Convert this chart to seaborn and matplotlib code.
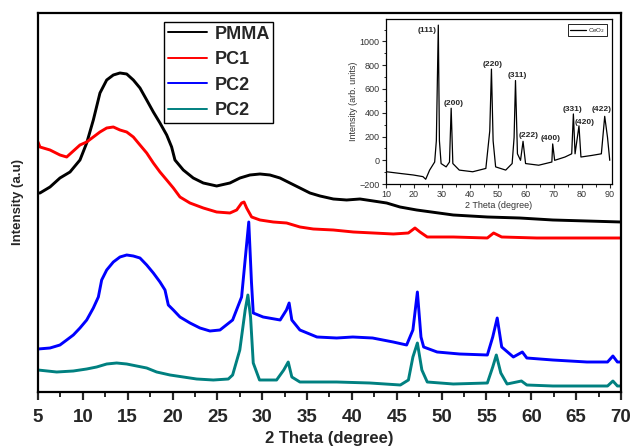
import numpy as np
import pandas as pd
import matplotlib
matplotlib.use("Agg")
import matplotlib.pyplot as plt
import seaborn as sns
from matplotlib.ticker import MultipleLocator

# ── data (intensity in arbitrary units) ─────────────────────────────────────
pmma_theta = [5.0, 5.22, 6.34, 7.45, 8.57, 9.68, 10.43, 11.17, 11.91, 12.66, 13.40, 14.14,
              14.89, 15.63, 16.37, 17.12, 17.86, 18.60, 19.35, 19.90, 20.27, 21.20, 22.31,
              23.43, 24.92, 26.40, 27.52, 28.63, 29.75, 30.86, 31.98, 33.09, 34.21, 35.32,
              36.44, 37.93, 39.41, 40.90, 42.39, 43.87, 45.36, 47.22, 51.3, 55.1, 58.7,
              62.4, 66.2, 70.0]
pmma_int = [199, 199, 205, 214, 220, 232, 249, 272, 299, 312, 317, 319,
            318, 312, 304, 292, 280, 269, 257, 245, 232, 222, 214,
            209, 206, 209, 214, 217, 218, 217, 214, 209, 204, 199,
            196, 193, 192, 193, 191, 189, 185, 182, 177, 175, 174,
            172, 171, 170]

pc1_theta = [5.0, 5.22, 6.34, 7.45, 8.20, 8.94, 9.68, 10.43, 11.17, 11.91, 12.66, 13.40,
             14.14, 14.89, 15.63, 16.37, 17.12, 17.86, 18.60, 19.35, 20.09, 20.83, 21.94,
             23.43, 24.92, 26.40, 27.15, 27.71, 27.97, 28.26, 28.82, 29.75, 31.23, 32.72,
             34.21, 35.69, 37.93, 40.16, 42.39, 44.62, 46.29, 47.03, 47.59, 48.4, 51.3,
             55.1, 55.8, 56.7, 60.6, 64.3, 70.0]
pc1_int = [250, 245, 242, 237, 235, 241, 247, 250, 255, 260, 264, 265,
           262, 260, 255, 247, 239, 229, 220, 212, 204, 195, 189,
           184, 180, 179, 182, 189, 190, 184, 175, 172, 170, 169,
           165, 163, 162, 160, 159, 158, 159, 164, 160, 155, 155,
           154, 159, 155, 154, 154, 154]

pc2_theta = [5.0, 6.34, 7.45, 8.20, 8.94, 9.68, 10.43, 11.17, 11.73, 12.10, 12.66, 13.40,
             14.14, 14.89, 15.63, 16.37, 17.12, 17.86, 18.60, 19.16, 19.53, 20.09, 20.83,
             21.95, 23.06, 24.17, 25.29, 26.7, 27.7, 28.2, 28.5, 28.8, 29.0, 30.1, 32.0,
             32.7, 33.0, 33.3, 34.2, 36.1, 38.3, 40.1, 42.3, 44.6, 46.1, 46.8, 47.3,
             47.7, 48.0, 49.5, 52.0, 55.1, 55.7, 56.2, 56.7, 58.0, 59.0, 59.5, 62.4,
             66.2, 68.5, 69.1, 69.6, 70.0]
pc2_int = [43, 44, 47, 52, 57, 64, 72, 84, 95, 112, 122, 130,
           135, 137, 136, 134, 127, 119, 110, 102, 87, 82, 75,
           69, 64, 61, 62, 72, 95, 142, 170, 110, 79, 75, 72,
           82, 89, 72, 62, 55, 54, 55, 54, 50, 47, 62, 100,
           55, 45, 40, 38, 37, 55, 74, 45, 35, 40, 34, 32,
           30, 30, 36, 30, 30]

pc2b_theta = [5.0, 7.08, 8.94, 10.43, 11.54, 12.66, 13.77, 14.89, 16.0, 17.12, 18.23,
              19.72, 21.2, 22.69, 24.55, 26.22, 26.7, 27.5, 28.1, 28.4, 28.7, 29.0, 29.7,
              31.6, 32.4, 32.9, 33.3, 34.2, 38.3, 42.0, 45.4, 46.3, 46.8, 47.3, 47.8,
              48.4, 51.3, 55.1, 55.7, 56.1, 56.6, 57.3, 58.9, 59.5, 62.4, 66.2, 68.5,
              69.1, 69.6, 70.0]
pc2b_int = [22, 20, 21, 23, 25, 28, 29, 28, 26, 24, 20,
            17, 15, 13, 12, 13, 17, 42, 82, 97, 75, 29, 12,
            12, 22, 30, 15, 10, 10, 9, 7, 12, 35, 49, 22,
            10, 8, 9, 25, 37, 19, 8, 11, 7, 6, 6, 6,
            11, 6, 6]

ceo2_theta = [10.2, 15.0, 19.7, 23.2, 24.2, 25.6, 27.4, 28.0, 28.7, 29.1, 29.7, 31.5,
              32.7, 33.3, 33.9, 36.2, 41.0, 45.7, 47.1, 47.7, 48.3, 49.2, 52.8, 55.1,
              55.8, 56.3, 57.0, 58.1, 59.0, 59.9, 64.6, 69.3, 69.6, 70.3, 74.0, 76.4,
              77.0, 77.6, 79.0, 79.7, 83.5, 87.0, 88.2, 89.2, 90.0]
ceo2_int = [-96, -110, -123, -137, -159, -82, -14, 164, 1137, 164, -27, -55,
            -14, 438, -27, -82, -96, -68, 247, 767, 164, -55, -82, -27,
            192, 671, 55, 0, 160, -27, -41, -14, 138, 0, 28, 55,
            390, 55, 290, 28, 41, 55, 370, 193, 0]

hkl_labels = ["(111)", "(200)", "(220)", "(311)", "(222)", "(400)", "(331)", "(420)", "(422)"]
hkl_theta = [24.7, 34.1, 48.3, 57.1, 61.0, 69.0, 76.6, 81.1, 87.0]
hkl_int = [1090, 474, 808, 717, 212, 185, 428, 317, 428]

series = [
    ("PMMA", pmma_theta, pmma_int, "black"),
    ("PC1", pc1_theta, pc1_int, "#ff0000"),
    ("PC2", pc2_theta, pc2_int, "#0000ff"),
    ("PC2", pc2b_theta, pc2b_int, "#008080"),
]

sns.set_style("ticks")
plt.rcParams["font.family"] = ["Liberation Sans", "DejaVu Sans"]

fig = plt.figure(figsize=(6.3, 4.48), dpi=100)
ax = fig.add_axes([0.0603, 0.125, 0.9254, 0.846])

for name, xs, ys, col in series:
    df = pd.DataFrame({"theta": xs, "intensity": ys})
    sns.lineplot(data=df, x="theta", y="intensity", ax=ax, color=col, lw=2.1,
                 label=name, estimator=None, sort=False)

ax.set_xlim(5, 70)
ax.set_ylim(0, 379)
ax.set_yticks([])
ax.xaxis.set_major_locator(MultipleLocator(5))
ax.xaxis.set_minor_locator(MultipleLocator(2.5))
ax.tick_params(axis="x", which="major", direction="out", length=6, width=1.6,
               labelsize=13.5, pad=6)
ax.tick_params(axis="x", which="minor", direction="out", length=3.5, width=1.4)
for lab in ax.get_xticklabels():
    lab.set_fontweight("bold")
for sp in ax.spines.values():
    sp.set_visible(True)
    sp.set_linewidth(1.6)
    sp.set_color("black")
ax.set_xlabel("2 Theta (degree)", fontsize=12, fontweight="bold", labelpad=4)
ax.set_ylabel("Intensity (a.u)", fontsize=9.5, fontweight="bold", labelpad=10)

leg = ax.legend(loc="upper left", bbox_to_anchor=(0.216, 0.976), borderaxespad=0,
                handlelength=2.2, handletextpad=0.4, labelspacing=0.47,
                borderpad=0.2, fancybox=False, framealpha=1, edgecolor="black",
                prop={"weight": "bold", "size": 13})
leg.get_frame().set_linewidth(1.0)
for h in leg.get_lines():
    h.set_linewidth(1.4)

# ── inset: CeO2 pattern ──────────────────────────────────────────────────────
ins = fig.add_axes([0.6127, 0.589, 0.3587, 0.369])
ins.set_facecolor("white")
sns.lineplot(x=ceo2_theta, y=ceo2_int, ax=ins, color="black", lw=0.9,
             label="CeO$_2$", estimator=None, sort=False)
ins.set_xlim(10, 90.8)
ins.set_ylim(-200, 1190)
ins.xaxis.set_major_locator(MultipleLocator(10))
ins.xaxis.set_minor_locator(MultipleLocator(5))
ins.yaxis.set_major_locator(MultipleLocator(200))
ins.yaxis.set_minor_locator(MultipleLocator(100))
ins.tick_params(which="major", direction="out", length=3, width=0.8,
                labelsize=6.5, labelcolor="#333333", pad=1.5)
ins.tick_params(which="minor", direction="out", length=1.8, width=0.7)
for sp in ins.spines.values():
    sp.set_visible(True)
    sp.set_linewidth(0.9)
    sp.set_color("black")
ins.set_xlabel("2 Theta (degree)", fontsize=6.5, color="#333333", labelpad=1)
ins.set_ylabel("Intensity (arb. units)", fontsize=6.5, color="#333333", labelpad=1)
for lab, tx, ty in zip(hkl_labels, hkl_theta, hkl_int):
    ins.text(tx, ty, lab, fontsize=6, fontweight="bold", ha="center", va="center")
ileg = ins.legend(loc="upper right", fontsize=4.5, handlelength=2.6, handletextpad=0.3,
                  borderpad=0.3, fancybox=False, framealpha=1, edgecolor="black",
                  borderaxespad=0.8)
ileg.get_frame().set_linewidth(0.6)

fig.savefig("out.png", dpi=100)
